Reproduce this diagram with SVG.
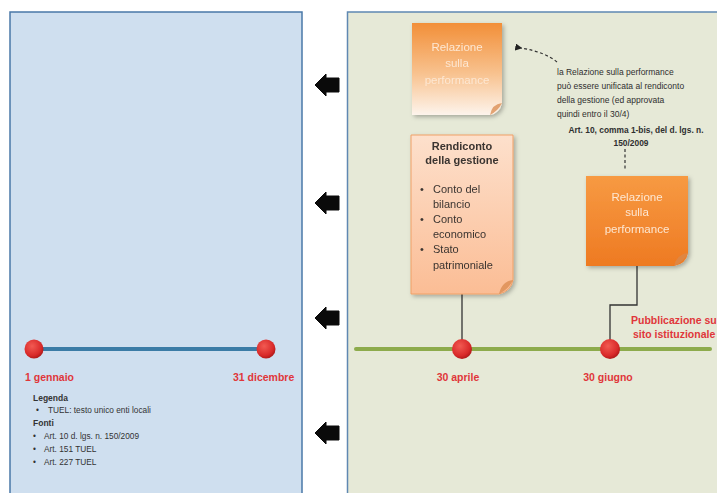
<svg xmlns="http://www.w3.org/2000/svg" width="717" height="493" viewBox="0 0 717 493">
  <defs>
    <linearGradient id="gOrangeFade" x1="0" y1="0" x2="0" y2="1">
      <stop offset="0" stop-color="#f28f38"/>
      <stop offset="0.55" stop-color="#f8c28f"/>
      <stop offset="1" stop-color="#fdf4ec"/>
    </linearGradient>
    <linearGradient id="gPeach" x1="0" y1="0" x2="0" y2="1">
      <stop offset="0" stop-color="#fde0cc"/>
      <stop offset="1" stop-color="#fbbd95"/>
    </linearGradient>
    <linearGradient id="gOrange" x1="0" y1="0" x2="0" y2="1">
      <stop offset="0" stop-color="#f79a43"/>
      <stop offset="1" stop-color="#ee7a22"/>
    </linearGradient>
    <radialGradient id="gDot" cx="0.4" cy="0.35" r="0.7">
      <stop offset="0" stop-color="#f25a52"/>
      <stop offset="0.7" stop-color="#d92a2a"/>
      <stop offset="1" stop-color="#a81616"/>
    </radialGradient>
    <filter id="shadow" x="-20%" y="-20%" width="140%" height="140%">
      <feDropShadow dx="2" dy="2" stdDeviation="2" flood-color="#000" flood-opacity="0.28"/>
    </filter>
    <marker id="dotHead" viewBox="0 0 10 10" refX="2" refY="5" markerWidth="6" markerHeight="6" orient="auto-start-reverse">
      <path d="M0,5 L10,0 L10,10 Z" fill="#222"/>
    </marker>
    <style>
      text { font-family: "Liberation Sans", Arial, sans-serif; }
      .panelL { fill: #cfdfef; stroke: #4a78a8; stroke-width: 1.5; }
      .panelR { fill: #e6e9d7; stroke: #5f88b2; stroke-width: 1.5; }
      .blk { fill: #0a0a0a; stroke: #0a0a0a; stroke-width: 1; stroke-linejoin: round; }
      .axisBlue { stroke: #3b7ca6; stroke-width: 4; stroke-linecap: round; }
      .axisGreen { stroke: #8dab4c; stroke-width: 4; stroke-linecap: round; }
      .dot { fill: url(#gDot); }
      .date { fill: #e0363a; font-size: 10.5px; font-weight: bold; }
      .legend { fill: #333; font-size: 8.3px; }
      .legendB { fill: #333; font-size: 8.5px; font-weight: bold; }
      .note { fill: #2f2f2f; font-size: 8.5px; }
      .noteB { fill: #2f2f2f; font-size: 8.4px; font-weight: bold; }
      .link { stroke: #333; stroke-width: 1.3; fill: none; }
      .dash { stroke: #333; stroke-width: 1.2; fill: none; stroke-dasharray: 3 2.5; }
      .fold { fill: #d98a4e; opacity: 0.75; }
      .boxTxtLight { fill: #fde7d2; font-size: 11.5px; text-anchor: middle; }
      .boxTxtDark { fill: #3a3430; font-size: 11px; }
    </style>
  </defs>

  <rect width="717" height="493" fill="#ffffff"/>

  <!-- two panels -->
  <rect class="panelL" x="10" y="12" width="292" height="490"/>
  <rect class="panelR" x="347.5" y="12" width="380" height="490"/>

  <!-- left panel: year span -->
  <g id="year-axis">
    <line class="axisBlue" x1="35" y1="349" x2="265" y2="349"/>
    <circle class="dot" cx="34" cy="349" r="9.5"/>
    <circle class="dot" cx="266" cy="349" r="9.5"/>
    <text class="date" x="25" y="381">1 gennaio</text>
    <text class="date" x="233" y="381">31 dicembre</text>
  </g>

  <!-- legend and sources -->
  <g id="legend">
    <text class="legendB" x="33" y="401">Legenda</text>
    <text class="legend" x="36" y="413">•</text>
    <text class="legend" x="48" y="413">TUEL: testo unico enti locali</text>
    <text class="legendB" x="33" y="426">Fonti</text>
    <text class="legend" x="33" y="439">•</text>
    <text class="legend" x="44" y="439">Art. 10 d. lgs. n. 150/2009</text>
    <text class="legend" x="33" y="452">•</text>
    <text class="legend" x="44" y="452">Art. 151 TUEL</text>
    <text class="legend" x="33" y="465">•</text>
    <text class="legend" x="44" y="465">Art. 227 TUEL</text>
  </g>

  <!-- right panel: deadlines axis -->
  <g id="deadline-axis">
    <line class="axisGreen" x1="356" y1="349" x2="710" y2="349"/>
  </g>

  <!-- connectors -->
  <g id="connectors">
    <polygon class="blk" points="315,85 326,74 326,78 339,78 339,92 326,92 326,96"/>
    <polygon class="blk" points="315,203 326,192 326,196 339,196 339,210 326,210 326,214"/>
    <polygon class="blk" points="315,318 326,307 326,311 339,311 339,325 326,325 326,329"/>
    <polygon class="blk" points="315,433 326,422 326,426 339,426 339,440 326,440 326,444"/>
    <line class="link" x1="462" y1="293" x2="462" y2="342"/>
    <polyline class="link" points="637,266 637,305 610,305 610,342"/>
    <line class="dash" x1="625" y1="149" x2="625" y2="171"/>
    <path class="dash" d="M557,62 Q545,52 521,48" marker-end="url(#dotHead)"/>
  </g>

  <!-- axis dots drawn over the links -->
  <g id="deadline-dots">
    <circle class="dot" cx="462" cy="349" r="10"/>
    <circle class="dot" cx="610" cy="349" r="10"/>
    <text class="date" x="458" y="381" text-anchor="middle">30 aprile</text>
    <text class="date" x="608" y="381" text-anchor="middle">30 giugno</text>
  </g>

  <!-- optional report merged with the accounts -->
  <g id="relazione-unificata" filter="url(#shadow)">
    <path d="M412,23 H502 V103 Q500,113 490,115 H412 Z" fill="url(#gOrangeFade)"/>
    <path class="fold" d="M502,103 Q492,104 490,115 Q498,111 502,103 Z"/>
    <text class="boxTxtLight" x="457" y="51">Relazione</text>
    <text class="boxTxtLight" x="457" y="67">sulla</text>
    <text class="boxTxtLight" x="457" y="84">performance</text>
  </g>

  <!-- accounts report -->
  <g id="rendiconto" filter="url(#shadow)">
    <path d="M411,135 H513 V280 Q511,291 499,294 H411 Z" fill="url(#gPeach)" stroke="#f0a067" stroke-width="1"/>
    <path class="fold" d="M513,280 Q502,281 499,294 Q509,289 513,280 Z"/>
    <text class="boxTxtDark" x="462" y="150" text-anchor="middle" font-weight="bold">Rendiconto</text>
    <text class="boxTxtDark" x="462" y="164" text-anchor="middle" font-weight="bold">della gestione</text>
    <text class="boxTxtDark" x="420" y="193">•</text>
    <text class="boxTxtDark" x="433" y="193">Conto del</text>
    <text class="boxTxtDark" x="433" y="208">bilancio</text>
    <text class="boxTxtDark" x="420" y="223">•</text>
    <text class="boxTxtDark" x="433" y="223">Conto</text>
    <text class="boxTxtDark" x="433" y="238">economico</text>
    <text class="boxTxtDark" x="420" y="253">•</text>
    <text class="boxTxtDark" x="433" y="253">Stato</text>
    <text class="boxTxtDark" x="433" y="269">patrimoniale</text>
  </g>

  <!-- performance report -->
  <g id="relazione-performance" filter="url(#shadow)">
    <path d="M586,176 H688 V253 Q686,264 674,266 H586 Z" fill="url(#gOrange)"/>
    <path class="fold" d="M688,253 Q677,254 674,266 Q684,262 688,253 Z"/>
    <text class="boxTxtLight" x="637" y="201" font-size="12.5">Relazione</text>
    <text class="boxTxtLight" x="637" y="216" font-size="12.5">sulla</text>
    <text class="boxTxtLight" x="637" y="233" font-size="12.5">performance</text>
  </g>

  <!-- note on merging the reports -->
  <g id="nota">
    <text class="note" x="557" y="75">la Relazione sulla performance</text>
    <text class="note" x="557" y="89">può essere unificata al rendiconto</text>
    <text class="note" x="557" y="103">della gestione (ed approvata</text>
    <text class="note" x="557" y="117">quindi entro il 30/4)</text>
    <text class="noteB" x="636" y="133" text-anchor="middle">Art. 10, comma 1-bis, del d. lgs. n.</text>
    <text class="noteB" x="631" y="146" text-anchor="middle">150/2009</text>
  </g>

  <!-- publication label -->
  <g id="pubblicazione">
    <text class="date" x="631" y="324">Pubblicazione su</text>
    <text class="date" x="633" y="338">sito istituzionale</text>
  </g>
</svg>
